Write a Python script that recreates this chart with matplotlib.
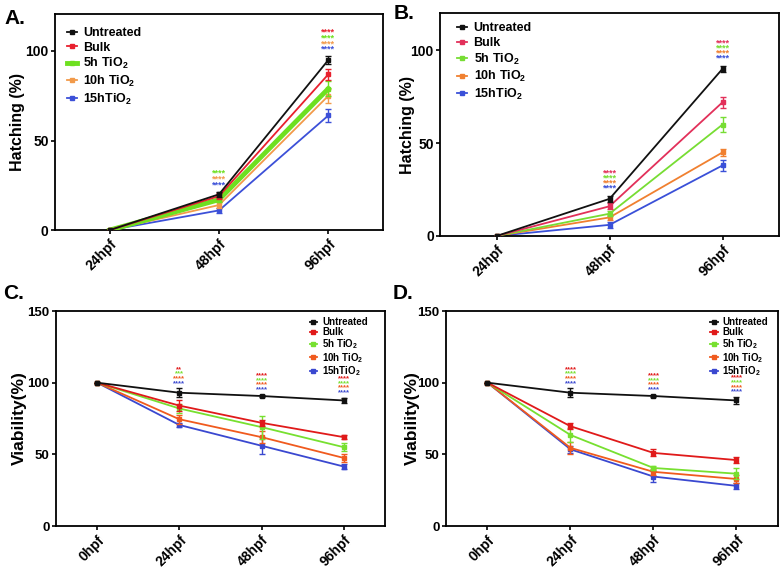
import numpy as np
import matplotlib
matplotlib.use('Agg')
import matplotlib.pyplot as plt

plt.rcParams['font.family'] = ['Liberation Sans', 'DejaVu Sans']
plt.rcParams['font.weight'] = 'bold'
plt.rcParams['mathtext.fontset'] = 'custom'
plt.rcParams['mathtext.rm'] = 'Liberation Sans:bold'
plt.rcParams['mathtext.bf'] = 'Liberation Sans:bold'
plt.rcParams['mathtext.default'] = 'bf'

# Dados
series = ['Untreated', 'Bulk', '5h TiO$_2$', '10h TiO$_2$', '15hTiO$_2$']
hatch_times = ['24hpf', '48hpf', '96hpf']
viab_times = ['0hpf', '24hpf', '48hpf', '96hpf']

hatch_a = [[0, 20, 95], [0, 19, 87], [0, 17, 79], [0, 14, 75], [0, 11, 64]]
hatch_a_err = [[0, 1.5, 2], [0, 1.5, 3], [0, 1.5, 4], [0, 1.5, 4], [0, 1.5, 3.5]]
hatch_b = [[0, 20, 90], [0, 16, 72], [0, 12, 60], [0, 10, 45], [0, 6, 38]]
hatch_b_err = [[0, 1.5, 1.5], [0, 1.5, 3], [0, 1.5, 4], [0, 1.5, 2], [0, 1.5, 3]]
viab_c = [[100, 93, 90.7, 87.6], [100, 84, 72, 62], [100, 82, 69, 55],
          [100, 74.5, 62, 47.5], [100, 70.5, 56, 41.5]]
viab_c_err = [[0, 3, 1, 2], [0, 4, 2, 1.5], [0, 3, 8, 3], [0, 3, 4, 3], [0, 1.5, 6, 2]]
viab_d = [[100, 93, 90.7, 87.6], [100, 69.6, 51, 46], [100, 63.5, 40.5, 36.5],
          [100, 54.5, 37.8, 32.8], [100, 53.5, 34.5, 28]]
viab_d_err = [[0, 3, 1, 2.5], [0, 2, 2.5, 2], [0, 5, 1.5, 4], [0, 4, 2, 3], [0, 2.5, 4, 2]]

# Significância: (índice do ponto, estrelas por série Bulk..15h)
sig_a = [(1, ['', '****', '****', '****']), (2, ['****', '****', '****', '****'])]
sig_b = [(1, ['****', '****', '****', '****']), (2, ['****', '****', '****', '****'])]
sig_c = [(1, ['**', '***', '****', '****']), (2, ['****', '****', '****', '****']),
         (3, ['****', '****', '****', '****'])]
sig_d = [(1, ['****', '****', '****', '****']), (2, ['****', '****', '****', '****']),
         (3, ['****', '****', '****', '****'])]

cores_a = ['#111111', '#e8202e', '#6ee020', '#f29a4a', '#3c50d8']
cores_b = ['#111111', '#e2305a', '#77dd33', '#f08030', '#3a50d8']
cores_cd = ['#111111', '#e01a1a', '#77e030', '#f05a1e', '#3a48d0']

fig = plt.figure(figsize=(7.83, 5.71), dpi=100)


def painel(rect, labels, dados, erros, cores, ylim, yticks, ylabel, ylab_x, sig,
           leg_loc, leg_size, leg_anchor, leg_sp, ylsize, ytsize, sig_base,
           sig_step, sig_size, lw_esp=None):
    ax = fig.add_axes(rect)
    x = np.arange(len(labels))
    for i, (nome, y, e, c) in enumerate(zip(series, dados, erros, cores)):
        lw = 1.3
        if lw_esp is not None and i == lw_esp:
            lw = 3.5
        ax.errorbar(x, y, yerr=e, color=c, lw=lw, capsize=2, elinewidth=1,
                    capthick=1, marker='s', ms=2.5, label=nome, zorder=5 - i)
    ax.set_xlim(-0.5, len(labels) - 0.5)
    ax.set_ylim(*ylim)
    ax.set_yticks(yticks)
    ax.set_xticks(x)
    ax.set_xticklabels(labels, rotation=45, ha='right', rotation_mode='anchor',
                       fontsize=10, fontweight='bold')
    ax.tick_params(axis='y', labelsize=ytsize, length=3, width=1.2, pad=1.5)
    ax.tick_params(axis='x', length=3, width=1.2, pad=2)
    for t in ax.get_yticklabels():
        t.set_fontweight('bold')
    for s in ax.spines.values():
        s.set_linewidth(1.3)
    ax.set_ylabel(ylabel, fontsize=ylsize, fontweight='bold')
    ax.yaxis.set_label_coords(ylab_x, 0.5)
    hs, ls = ax.get_legend_handles_labels()
    hs = [h[0] for h in hs]
    ax.legend(hs, ls, loc=leg_loc, bbox_to_anchor=leg_anchor, frameon=False,
              prop={'size': leg_size, 'weight': 'bold'}, handlelength=0.8,
              labelspacing=leg_sp, handletextpad=0.5, borderaxespad=0)
    # estrelas
    for idx, stars in sig:
        ytop = max(np.array(dados)[:, idx] + np.array(erros)[:, idx])
        for k, st in enumerate(stars):
            if not st:
                continue
            ax.annotate(st, xy=(idx, ytop), xytext=(0, sig_base + (3 - k) * sig_step),
                        textcoords='offset points', ha='center', va='center',
                        color=cores[k + 1], fontsize=sig_size, fontweight='bold')
    return ax


painel([0.0702, 0.597, 0.419, 0.378], hatch_times, hatch_a, hatch_a_err, cores_a,
       (0, 120.5), [0, 50, 100], 'Hatching (%)', -0.091, sig_a, 'upper left', 9,
       (0.022, 0.963), 0.2, 11.5, 10, 5, 4.2, 6.5, lw_esp=2)
painel([0.562, 0.5867, 0.433, 0.3905], hatch_times, hatch_b, hatch_b_err, cores_b,
       (0, 120), [0, 50, 100], 'Hatching (%)', -0.074, sig_b, 'upper left', 9,
       (0.036, 0.98), 0.2, 11.5, 10, 6, 3.6, 6.5)
painel([0.0715, 0.0788, 0.420, 0.3765], viab_times, viab_c, viab_c_err, cores_cd,
       (0, 150), [0, 50, 100, 150], 'Viability(%)', -0.088, sig_c, 'upper right', 7,
       (0.96, 0.99), 0.0, 12.5, 9.5, 3.5, 3.4, 5.5)
painel([0.5696, 0.0788, 0.424, 0.3765], viab_times, viab_d, viab_d_err, cores_cd,
       (0, 150), [0, 50, 100, 150], 'Viability(%)', -0.08, sig_d, 'upper right', 7,
       (0.982, 0.99), 0.0, 12.5, 9.5, 3.5, 3.4, 5.5)

for txt, xx, yy in [('A.', 0.006, 0.985), ('B.', 0.503, 0.993),
                    ('C.', 0.004, 0.502), ('D.', 0.501, 0.502)]:
    fig.text(xx, yy, txt, fontsize=15, fontweight='bold', va='top', ha='left')

fig.savefig('out.png', dpi=100)
